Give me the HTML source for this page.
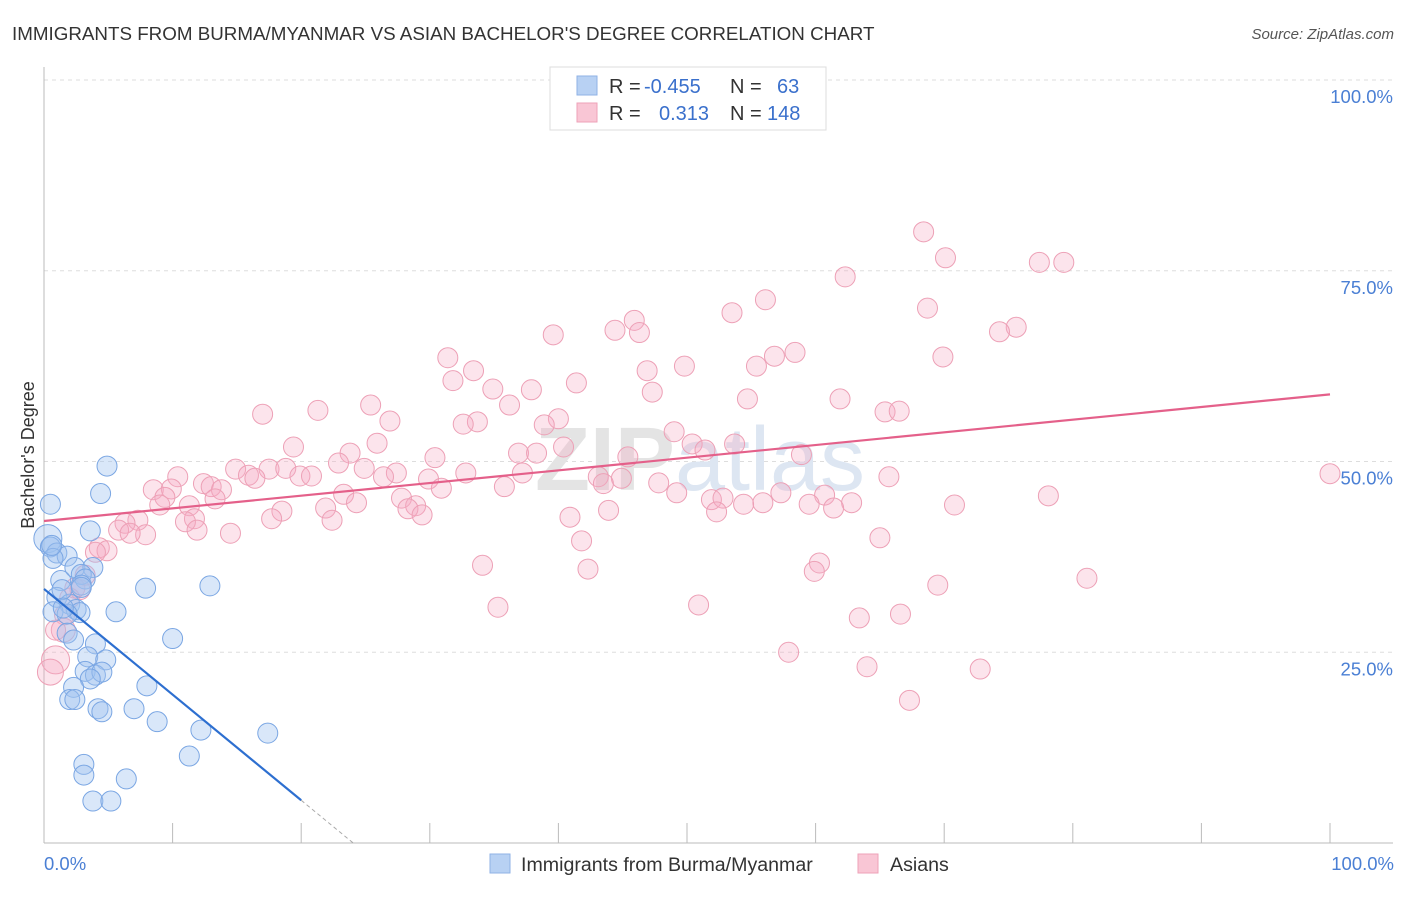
<!DOCTYPE html>
<html><head><meta charset="utf-8"><style>
body{margin:0;background:#fff;font-family:"Liberation Sans",sans-serif;}
</style></head><body>
<svg width="1406" height="892" xmlns="http://www.w3.org/2000/svg">
<text x="12" y="40" font-size="18.8" fill="#333">IMMIGRANTS FROM BURMA/MYANMAR VS ASIAN BACHELOR'S DEGREE CORRELATION CHART</text>
<text x="1394" y="39" font-size="15" fill="#555" font-style="italic" text-anchor="end">Source: ZipAtlas.com</text>
<g id="grid"></g>
<text x="700" y="490" font-size="90" fill="#e4e4e4" text-anchor="middle" font-weight="bold">ZIP<tspan fill="#dde6f2" font-weight="normal">atlas</tspan></text>
<g id="pts"></g>
<g id="lines"></g>
<text transform="translate(34,455) rotate(-90)" font-size="18" fill="#333" text-anchor="middle">Bachelor's Degree</text>
<text x="44" y="870" font-size="18.5" fill="#4a7fd4">0.0%</text>
<text x="1394" y="870" font-size="18.5" fill="#4a7fd4" text-anchor="end">100.0%</text>
<g>
<rect x="550" y="67" width="276" height="63" fill="#fff" stroke="#ddd"/>
<rect x="577" y="76" width="20" height="19" fill="#b8d1f3" stroke="#8fb2e6"/>
<rect x="577" y="103" width="20" height="19" fill="#f9c6d5" stroke="#eea2b8"/>
<text x="609" y="93" font-size="20" fill="#333">R = <tspan x="644" fill="#3a70cc">-0.455</tspan></text>
<text x="730" y="93" font-size="20" fill="#333">N = <tspan x="777" fill="#3a70cc">63</tspan></text>
<text x="609" y="120" font-size="20" fill="#333">R = <tspan x="659" fill="#3a70cc">0.313</tspan></text>
<text x="730" y="120" font-size="20" fill="#333">N = <tspan x="767" fill="#3a70cc">148</tspan></text>
</g>
<g>
<rect x="490" y="854" width="20" height="19" fill="#b8d1f3" stroke="#8fb2e6"/>
<text x="521" y="871" font-size="19.6" fill="#333">Immigrants from Burma/Myanmar</text>
<rect x="858" y="854" width="20" height="19" fill="#f9c6d5" stroke="#eea2b8"/>
<text x="890" y="871" font-size="19.6" fill="#333">Asians</text>
</g>
</svg>
<script>
const blueX=[4.9,4.4,0.5,3.6,0.3,0.5,1.0,1.8,0.7,2.4,3.8,2.9,1.3,3.2,2.9,1.0,2.0,2.5,2.8,0.7,1.8,7.9,12.9,5.6,1.8,2.3,4.0,10.0,3.4,4.8,3.2,4.0,4.5,3.6,2.3,8.0,2.0,2.4,4.2,4.5,7.0,8.8,12.2,17.4,11.3,3.1,3.1,6.4,3.8,5.2,0.6,1.4,2.9,1.5];
const blueY=[49.4,45.8,44.4,40.9,39.9,38.8,38.0,37.6,37.3,36.1,36.1,35.2,34.4,34.6,33.8,32.2,31.3,30.6,30.2,30.3,30.0,33.4,33.7,30.3,27.5,26.6,26.1,26.8,24.4,24.0,22.5,22.0,22.4,21.5,20.4,20.6,18.8,18.8,17.6,17.2,17.6,15.9,14.8,14.4,11.4,10.3,8.9,8.4,5.5,5.5,39.0,33.2,33.5,30.8];
const pinkX=[68.4,70.1,77.4,79.3,62.3,56.1,53.5,68.7,45.9,44.4,46.3,39.6,75.6,74.3,31.4,58.4,56.8,69.9,49.8,55.4,33.4,46.9,31.8,41.4,34.9,37.9,47.3,54.7,61.9,36.2,25.4,21.3,17.0,65.4,66.5,26.9,33.7,32.6,40.0,38.9,49.0,50.4,51.4,53.7,40.4,25.9,19.4,23.8,36.9,38.3,58.9,30.4,45.4,22.9,14.9,17.5,18.8,24.9,27.4,32.8,37.2,10.4,15.9,19.9,20.8,26.4,16.4,29.9,43.1,44.9,43.5,65.7,100,12.4,13.0,30.9,35.8,47.8,49.2,8.5,9.9,13.8,9.4,9.0,23.3,24.3,27.8,28.9,28.3,29.4,21.9,18.5,17.7,22.4,11.3,13.3,11.7,11.0,11.9,14.5,7.3,6.3,5.8,7.9,6.7,4.3,4.9,4.0,62.8,60.7,59.5,61.4,57.3,55.9,54.4,51.9,52.8,52.3,43.9,40.9,70.8,78.1,65.0,41.8,34.1,42.3,60.3,59.9,81.1,69.5,35.3,50.9,63.4,66.6,57.9,64.0,72.8,67.3,2.4,2.0,1.6,1.5,0.9,0.9,0.5,2.8,3.2];
const pinkY=[80.1,76.7,76.1,76.1,74.2,71.2,69.5,70.1,68.5,67.2,66.9,66.6,67.6,67.0,63.6,64.3,63.8,63.7,62.5,62.5,61.9,61.9,60.6,60.3,59.5,59.4,59.1,58.2,58.2,57.4,57.4,56.7,56.2,56.5,56.6,55.3,55.2,54.9,55.6,54.8,53.9,52.3,51.5,52.3,51.9,52.4,51.9,51.1,51.1,51.1,50.9,50.5,50.6,49.8,49.0,49.0,49.1,49.1,48.5,48.5,48.5,48.0,48.2,48.1,48.1,48.0,47.8,47.7,48.0,47.8,47.1,48.0,48.4,47.1,46.7,46.5,46.7,47.2,45.9,46.3,46.4,46.3,45.3,44.3,45.7,44.6,45.2,44.2,43.8,43.0,43.9,43.5,42.5,42.3,44.2,45.1,42.5,42.1,41.0,40.6,42.3,41.9,41.0,40.4,40.6,38.7,38.3,38.1,44.6,45.6,44.4,43.9,45.9,44.6,44.4,45.0,45.2,43.4,43.6,42.7,44.3,45.5,40.0,39.6,36.4,35.9,36.7,35.6,34.7,33.8,30.9,31.2,29.5,30.0,25.0,23.1,22.8,18.7,33.4,32.1,29.9,27.9,27.9,24.0,22.4,33.2,35.1];
const blueFit=[33.3,-1.385];
const pinkFit=[42.2,0.166];
const yTicks=[25,50,75,100];
const yTickLabels=["25.0%","50.0%","75.0%","100.0%"];
const X=v=>44+v*12.86, Y=v=>843-v*7.63;
const NS="http://www.w3.org/2000/svg";
function mk(t,a,p){const e=document.createElementNS(NS,t);for(const k in a)e.setAttribute(k,a[k]);p.appendChild(e);return e;}
const g=document.getElementById('grid');
yTicks.forEach((t,i)=>{
 const l=mk('line',{x1:44,x2:1393,y1:Y(t),y2:Y(t),stroke:'#ddd','stroke-dasharray':'4,4'},g);
 
 
 const tx=mk('text',{x:1393,y:Y(t)+23,'font-size':18.5,fill:'#4a7fd4','text-anchor':'end'},g);
 tx.textContent=yTickLabels[i];
 
 
});
const ax=mk('line',{x1:44,x2:44,y1:67,y2:843,stroke:'#bbb'},g);


const bx=mk('line',{x1:44,x2:1393,y1:843,y2:843,stroke:'#bbb'},g);


for(let i=0;i<=10;i++){
 const t=mk('line',{x1:X(i*10),x2:X(i*10),y1:823,y2:843,stroke:'#bbb'},g);
 
 
}
const p=document.getElementById('pts');
const big={"0.3,39.9":14,"0.9,24":14,"0.5,22.4":13,"1.5,27.9":12};
pinkX.forEach((x,i)=>{
 const r=big[x+','+pinkY[i]]||10;
 const c=mk('circle',{cx:X(x),cy:Y(pinkY[i]),r:r,fill:'rgba(246,170,196,0.32)',stroke:'#eda0b6','stroke-width':1},p);
 
 
});
blueX.forEach((x,i)=>{
 const r=big[x+','+blueY[i]]||10;
 const c=mk('circle',{cx:X(x),cy:Y(blueY[i]),r:r,fill:'rgba(160,196,240,0.4)',stroke:'#7aa6e3','stroke-width':1},p);
 
 
});
const L=document.getElementById('lines');
const bl=mk('line',{x1:X(0),y1:Y(blueFit[0]),x2:X(20),y2:Y(blueFit[0]+blueFit[1]*20),stroke:'#2d6fd0','stroke-width':2.2},L);


const x0=-blueFit[0]/blueFit[1];
const bd=mk('line',{x1:X(20),y1:Y(blueFit[0]+blueFit[1]*20),x2:X(x0),y2:Y(0),stroke:'#aaa','stroke-width':1,'stroke-dasharray':'4,3'},L);


const pl=mk('line',{x1:X(0),y1:Y(pinkFit[0]),x2:X(100),y2:Y(pinkFit[0]+pinkFit[1]*100),stroke:'#e4608a','stroke-width':2.2},L);


</script>
</body></html>
